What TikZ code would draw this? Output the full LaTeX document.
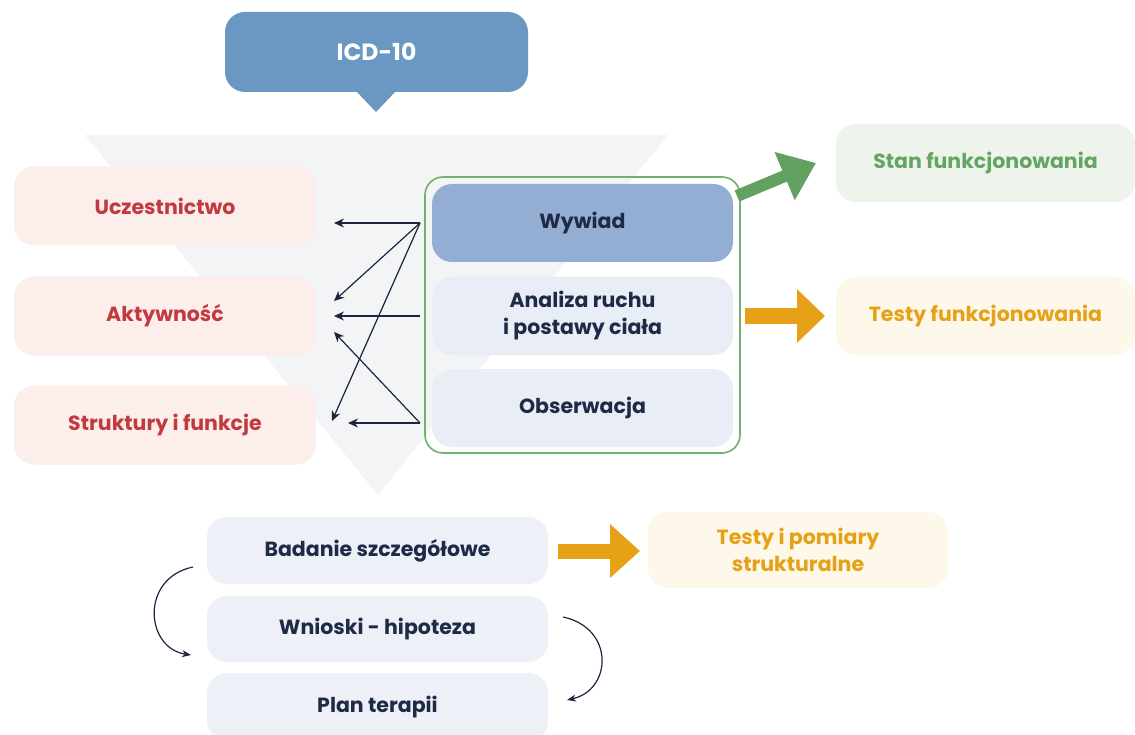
\documentclass[tikz,border=0pt]{standalone}
\usepackage{fontspec}
\setmainfont{Poppins}
\usetikzlibrary{arrows.meta,shapes.misc}
\definecolor{icdblue}{HTML}{6B98C2}
\definecolor{bgtri}{HTML}{F3F4F6}
\definecolor{pinkbg}{HTML}{FBEEEB}
\definecolor{redtxt}{HTML}{C23A40}
\definecolor{frgreen}{HTML}{6DB36B}
\definecolor{wywfill}{HTML}{93AED2}
\definecolor{navy}{HTML}{1E2A46}
\definecolor{lightblue}{HTML}{E9EEF6}
\definecolor{stanfill}{HTML}{EEF4EC}
\definecolor{greentxt}{HTML}{64A564}
\definecolor{yelfill}{HTML}{FDF8E9}
\definecolor{orng}{HTML}{E6A116}
\definecolor{botfill}{HTML}{EEF0F8}
\definecolor{arrnavy}{HTML}{1F2340}
\tikzset{
  box/.style={rounded corners=20pt, inner sep=0pt, align=center, font=\bfseries\fontsize{20.5}{27}\selectfont},
  leftbox/.style={box, fill=pinkbg, text=redtxt, minimum width=302pt, minimum height=79pt},
  inbox/.style={box, fill=lightblue, text=navy, minimum width=301pt, minimum height=78pt},
  rightbox/.style={box, minimum width=299pt, minimum height=78pt},
  botbox/.style={box, fill=botfill, text=navy, minimum width=341pt},
  thin/.style={line width=1.2pt, draw=arrnavy, -{Stealth[length=10pt,width=9pt]}},
  curv/.style={line width=1.2pt, draw=arrnavy, -{Stealth[length=9pt,width=7pt]}},
}
\begin{document}
\begin{tikzpicture}[x=1pt,y=-1pt]
\clip (0,0) rectangle (1135,735);
\fill[white] (0,0) rectangle (1135,735);
% background triangle
\fill[bgtri] (85,135) -- (668,135) -- (378,495) -- cycle;
% ICD bubble
\node[box, fill=icdblue, text=white, minimum width=303pt, minimum height=80pt, font=\bfseries\fontsize{23.5}{28}\selectfont] (icd) at (376.5,52) {ICD-10};
\fill[icdblue] (356,91) -- (396,91) -- (376,112) -- cycle;
% left boxes
\node[leftbox] (ucz) at (165,206) {Uczestnictwo};
\node[leftbox] (akt) at (165,316) {Aktywność};
\node[leftbox] (str) at (165,425) {Struktury i funkcje};
% frame and inner boxes
\node[draw=frgreen, line width=1.6pt, rounded corners=18pt, minimum width=315pt, minimum height=276pt] (frame) at (582.5,315) {};
\node[inbox, fill=wywfill] (wyw) at (582.5,223) {Wywiad};
\node[inbox] (ana) at (582.5,316) {Analiza ruchu\\i postawy ciała};
\node[inbox] (obs) at (582.5,408) {Obserwacja};
% right boxes
\node[rightbox, fill=stanfill, text=greentxt] (stan) at (985.5,163) {Stan funkcjonowania};
\node[rightbox, fill=yelfill, text=orng] (testy) at (985.5,316) {Testy funkcjonowania};
% bottom boxes
\node[botbox, minimum height=67pt] (bad) at (377.5,550.5) {Badanie szczegółowe};
\node[botbox, minimum height=66pt] (wni) at (377.5,629) {Wnioski - hipoteza};
\node[botbox, minimum height=68pt] (plan) at (377.5,707) {Plan terapii};
\node[rightbox, fill=yelfill, text=orng, minimum width=300pt, minimum height=76pt] (tpom) at (798,550) {Testy i pomiary\\strukturalne};
% thin arrows
\coordinate (sW) at (420,223);
\coordinate (sA) at (420,316);
\coordinate (sO) at (420,423);
\coordinate (tU) at (334,223);
\coordinate (tA1) at (334,301);
\coordinate (tA2) at (334,316);
\coordinate (tA3) at (334,332);
\coordinate (tS1) at (332,421);
\coordinate (tS2) at (348,423);
\draw[thin] (sW) -- (tU);
\draw[thin] (sW) -- (tA1);
\draw[thin] (sW) -- (tS1);
\draw[thin] (sA) -- (tA2);
\draw[thin] (sO) -- (tA3);
\draw[thin] (sO) -- (tS2);
% thick arrows
\coordinate (gS) at (737,196);
\coordinate (gE) at (816,163);
\draw[frgreen!90!black, line width=12pt, -{Triangle[length=34pt,width=50pt]}] (gS) -- (gE);
\coordinate (oS) at (745,316);
\coordinate (oE) at (825,316);
\draw[orng, line width=15pt, -{Triangle[length=28pt,width=52pt]}] (oS) -- (oE);
\coordinate (bS) at (558,551);
\coordinate (bE) at (640,551);
\draw[orng, line width=15pt, -{Triangle[length=30pt,width=52pt]}] (bS) -- (bE);
% curved arrows
\coordinate (c1s) at (193,567);
\coordinate (c1e) at (191,655);
\draw[curv] (c1s) .. controls (140,578) and (145,648) .. (c1e);
\coordinate (c2s) at (563,617);
\coordinate (c2e) at (567,700);
\draw[curv] (c2s) .. controls (615,628) and (612,690) .. (c2e);
\end{tikzpicture}
\end{document}
